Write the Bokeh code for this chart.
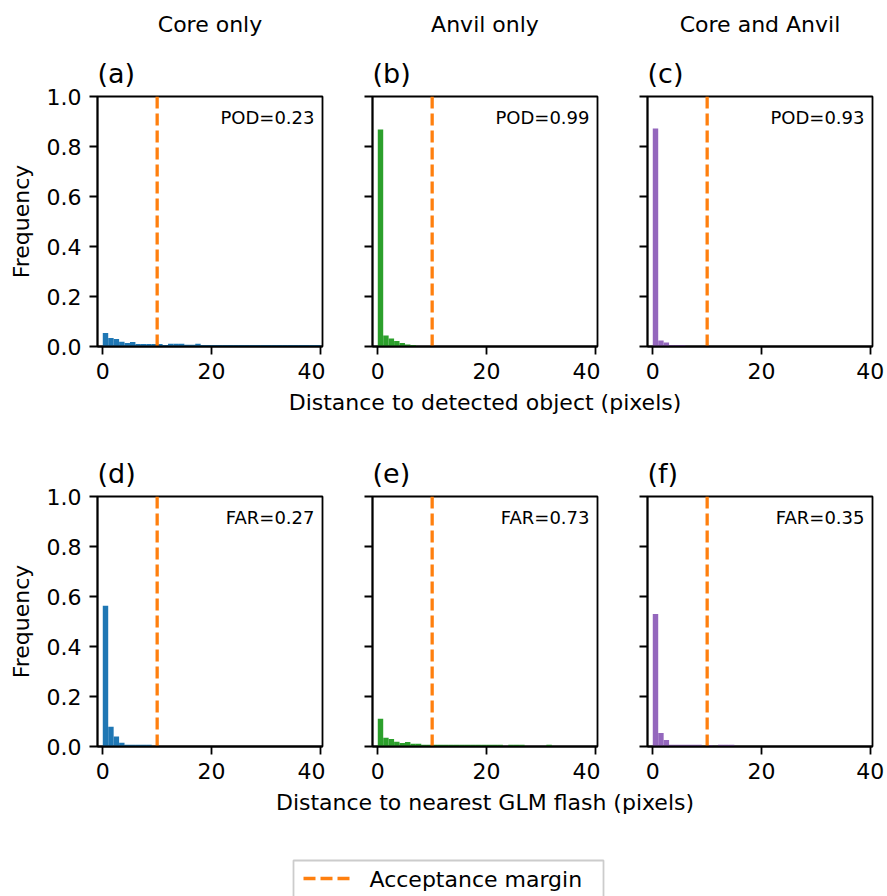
import numpy as np
from bokeh.plotting import figure
from bokeh.models import (Range1d, FixedTicker, Label, Title, PrintfTickFormatter,
                          CustomJSTickFormatter)
from bokeh.layouts import column, row
from bokeh.embed import file_html
from bokeh.resources import INLINE

# ---------------- data ----------------
bin_edges = [0, 1, 2, 3, 4, 5, 6, 7, 8, 9, 10, 11, 12, 13, 14, 15, 16, 17, 18, 19, 20,
             21, 22, 23, 24, 25, 26, 27, 28, 29, 30, 31, 32, 33, 34, 35, 36, 37, 38, 39, 40]

core_pod = [0.054, 0.034, 0.030, 0.019, 0.014, 0.018, 0.010, 0.010, 0.010, 0.010,
            0.010, 0.006, 0.011, 0.011, 0.011, 0.007, 0.007, 0.011, 0.006, 0.006,
            0.006, 0.006, 0.006, 0.006, 0.006, 0.006, 0.006, 0.006, 0.006, 0.006,
            0.006, 0.006, 0.006, 0.006, 0.006, 0.006, 0.006, 0.006, 0.006, 0.006]
anvil_pod = [0.868, 0.044, 0.032, 0.022, 0.014, 0.008, 0.006, 0, 0, 0,
             0, 0, 0, 0, 0, 0, 0, 0, 0, 0,
             0, 0, 0, 0, 0, 0, 0, 0, 0, 0,
             0, 0, 0, 0, 0, 0, 0, 0, 0, 0]
both_pod = [0.872, 0.024, 0.016, 0.006, 0.006, 0.006, 0, 0, 0, 0,
            0, 0, 0, 0, 0, 0, 0, 0, 0, 0,
            0, 0, 0, 0, 0, 0, 0, 0, 0, 0,
            0, 0, 0, 0, 0, 0, 0, 0, 0, 0]
core_far = [0.563, 0.079, 0.040, 0.015, 0.007, 0.007, 0.007, 0.007, 0.007, 0,
            0, 0, 0, 0, 0, 0, 0, 0, 0, 0,
            0, 0, 0, 0, 0, 0, 0, 0, 0, 0,
            0, 0, 0, 0, 0, 0, 0, 0, 0, 0]
anvil_far = [0.111, 0.035, 0.030, 0.019, 0.014, 0.018, 0.011, 0.011, 0.007, 0.007,
             0.007, 0.007, 0.007, 0.007, 0.007, 0.007, 0.007, 0.007, 0.007, 0.007,
             0.007, 0.007, 0.007, 0, 0.007, 0.007, 0.007, 0, 0, 0,
             0, 0.007, 0, 0, 0, 0, 0, 0, 0, 0]
both_far = [0.53, 0.054, 0.026, 0.007, 0.007, 0.007, 0.007, 0.007, 0.007, 0,
            0.006, 0, 0.007, 0.007, 0.007, 0, 0, 0, 0, 0,
            0, 0, 0, 0, 0, 0, 0, 0, 0, 0,
            0, 0, 0, 0, 0, 0, 0, 0, 0, 0]

column_titles = ["Core only", "Anvil only", "Core and Anvil"]
panel_labels = ["(a)", "(b)", "(c)", "(d)", "(e)", "(f)"]
scores = ["POD=0.23", "POD=0.99", "POD=0.93", "FAR=0.27", "FAR=0.73", "FAR=0.35"]
xlabels = ["Distance to detected object (pixels)", "Distance to nearest GLM flash (pixels)"]
ylabel = "Frequency"
acceptance_margin = 10
legend_label = "Acceptance margin"
x_ticks = [0, 20, 40]
y_ticks = [0.0, 0.2, 0.4, 0.6, 0.8, 1.0]
x_lim = (-0.97, 40.4)
y_lim = (0.0, 1.0)

# ---------------- style / layout ----------------
BLUE, GREEN, PURPLE, ORANGE = "#1f77b4", "#2ca02c", "#9467bd", "#ff7f0e"
FONT = "DejaVu Sans"
MID = 0.35          # baseline -> vertical centre of the text box, in em
W = 887
FW, FH = 225, 250
LEFTS = [97, 47, 47]
RIGHTS = [3, 3, 15]
FRAME_X0 = [97, 372, 647]
ROW_TOP, ROW_BOTTOM = 52, 44
STRIP1_H, STRIP2_H, STRIP3_H = 44, 54, 106


def make_panel(values, color, idx):
    colpos = idx % 3
    p = figure(frame_width=FW, frame_height=FH,
               x_range=Range1d(*x_lim), y_range=Range1d(*y_lim),
               output_backend="svg", toolbar_location=None,
               min_border_left=LEFTS[colpos], min_border_right=RIGHTS[colpos],
               min_border_top=ROW_TOP, min_border_bottom=ROW_BOTTOM)
    p.title = Title(text=panel_labels[idx], align="left", offset=0, standoff=15,
                    text_font=FONT, text_font_size="27px", text_font_style="normal",
                    text_color="black")
    p.xgrid.visible = False
    p.ygrid.visible = False
    p.background_fill_color = "white"
    p.border_fill_color = "white"
    p.outline_line_color = "black"
    p.outline_line_width = 1.8

    p.quad(left=bin_edges[:-1], right=bin_edges[1:], bottom=0, top=values,
           fill_color=color, line_color=None)
    p.line(x=[acceptance_margin, acceptance_margin], y=[y_lim[0], y_lim[1]],
           line_color=ORANGE, line_width=3.3, line_dash="12 5")

    p.xaxis.ticker = FixedTicker(ticks=x_ticks)
    p.yaxis.ticker = FixedTicker(ticks=y_ticks)
    if colpos == 0:
        p.yaxis.formatter = PrintfTickFormatter(format="%.1f")
        p.yaxis.axis_label = ylabel
        p.yaxis.axis_label_text_font = FONT
        p.yaxis.axis_label_text_font_size = "22px"
        p.yaxis.axis_label_text_font_style = "normal"
        p.yaxis.axis_label_text_color = "black"
        p.yaxis.axis_label_standoff = 10
    else:
        p.yaxis.formatter = CustomJSTickFormatter(code="return ''")
    for ax in p.axis:
        ax.axis_line_width = 1.8
        ax.axis_line_color = "black"
        ax.major_tick_line_width = 1.8
        ax.major_tick_line_color = "black"
        ax.major_tick_out = 8
        ax.major_tick_in = 0
        ax.minor_tick_out = 0
        ax.minor_tick_in = 0
        ax.major_label_text_font = FONT
        ax.major_label_text_font_size = "22px"
        ax.major_label_text_color = "black"
    p.xaxis.major_label_standoff = 8
    p.yaxis.major_label_standoff = 8

    # score text: baseline 27 px below the frame top, centred vertically
    p.add_layout(Label(x=FW - 8, y=FH - 27 + MID * 18, x_units="screen", y_units="screen",
                       text=scores[idx], text_font=FONT, text_font_size="18px",
                       text_align="right", text_baseline="middle", text_color="black"))
    return p


def make_strip(h):
    s = figure(frame_width=W, frame_height=h, x_range=Range1d(0, W), y_range=Range1d(h, 0),
               output_backend="svg", toolbar_location=None, x_axis_type=None, y_axis_type=None,
               min_border_left=0, min_border_right=0, min_border_top=0, min_border_bottom=0)
    s.xgrid.visible = False
    s.ygrid.visible = False
    s.outline_line_color = None
    s.background_fill_color = "white"
    s.border_fill_color = "white"
    return s


def add_text(s, x, baseline, text, size, align):
    s.add_layout(Label(x=x, y=baseline - MID * size, text=text, text_font=FONT,
                       text_font_size=f"{size}px", text_align=align,
                       text_baseline="middle", text_color="black"))


series = [core_pod, anvil_pod, both_pod, core_far, anvil_far, both_far]
colors = [BLUE, GREEN, PURPLE, BLUE, GREEN, PURPLE]
panels = [make_panel(series[i], colors[i], i) for i in range(6)]

# strip above top row: column titles
s1 = make_strip(STRIP1_H)
for j in range(3):
    add_text(s1, FRAME_X0[j] + FW / 2, 32, column_titles[j], 22, "center")

# strip between rows: x label of top row
s2 = make_strip(STRIP2_H)
add_text(s2, FRAME_X0[1] + FW / 2, 20, xlabels[0], 22, "center")

# bottom strip: x label of bottom row and legend
s3 = make_strip(STRIP3_H)
add_text(s3, FRAME_X0[1] + FW / 2, 20, xlabels[1], 22, "center")
s3.quad(left=293, right=603, top=70, bottom=STRIP3_H + 10,
        fill_color="white", fill_alpha=0.8, line_color="#cccccc", line_width=1.8)
s3.line(x=[303, 349], y=[88, 88], line_color=ORANGE, line_width=3.3, line_dash="12 5")
add_text(s3, 369, 97, legend_label, 22, "left")

layout = column(s1,
                row(panels[0], panels[1], panels[2]),
                s2,
                row(panels[3], panels[4], panels[5]),
                s3)

open("out.html", "w").write(file_html(layout, INLINE))
